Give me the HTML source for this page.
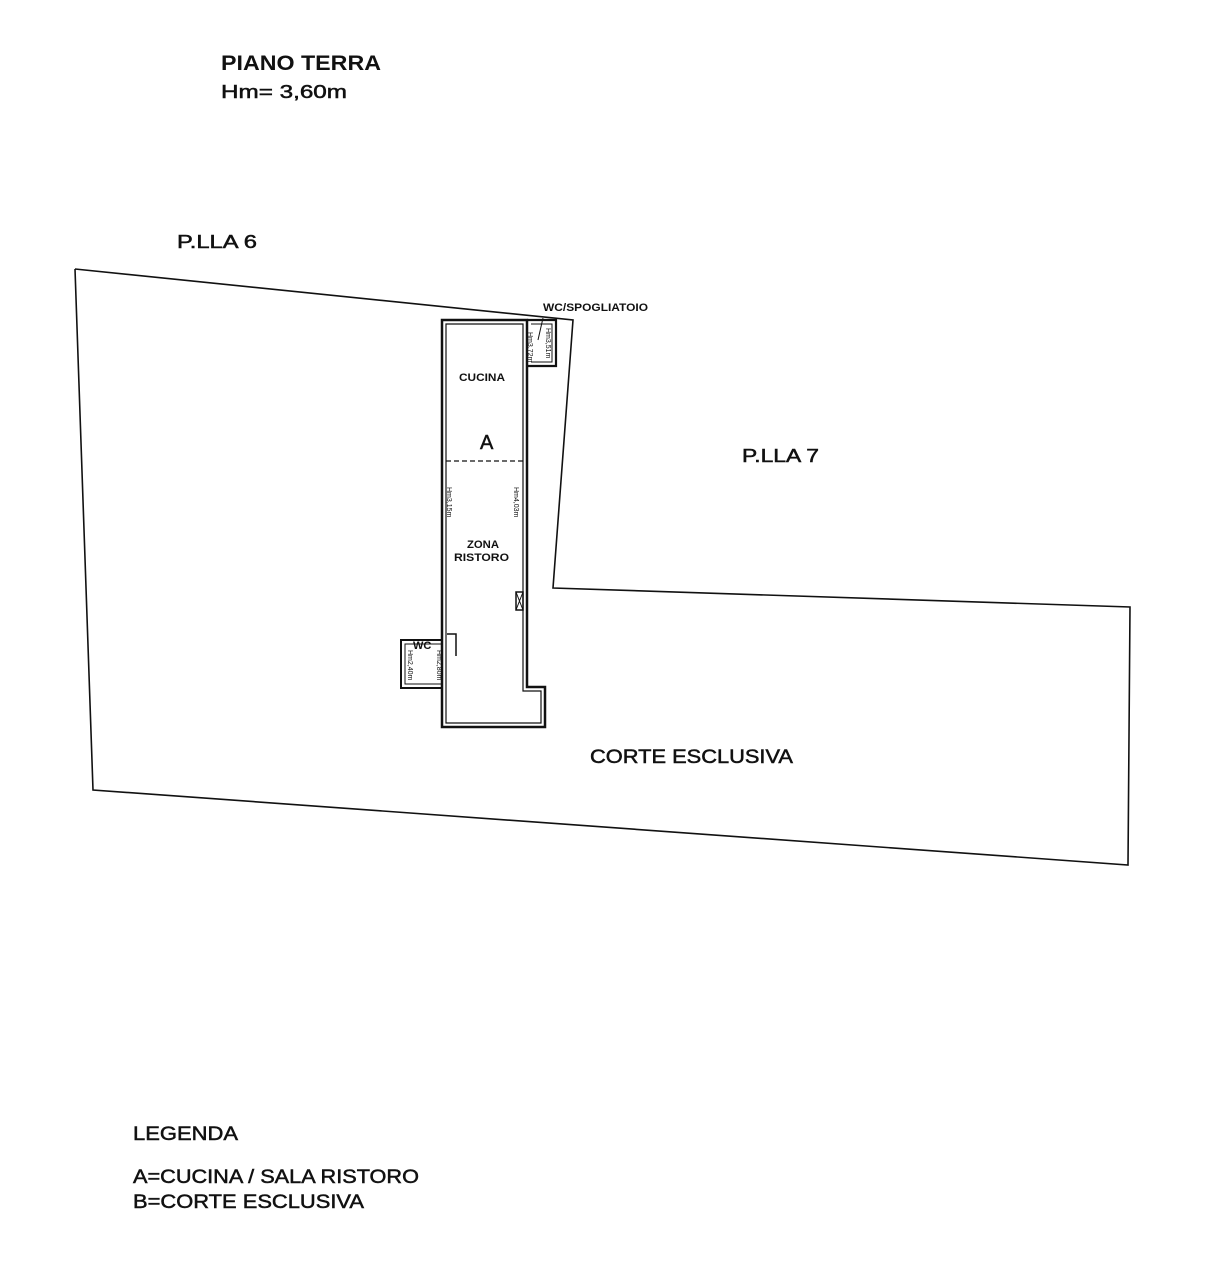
<!DOCTYPE html>
<html><head><style>
html,body{margin:0;padding:0;background:#fff;}
svg{display:block}
text{font-family:"Liberation Sans",Arial,sans-serif;fill:#111}
.m{stroke:#111;stroke-width:0.5}
</style></head><body>
<svg width="1215" height="1280" viewBox="0 0 1215 1280" xmlns="http://www.w3.org/2000/svg">
<rect width="1215" height="1280" fill="#fff"/>
<text x="221" y="70" font-size="21" font-weight="bold" textLength="160" lengthAdjust="spacingAndGlyphs">PIANO TERRA</text>
<text x="221" y="98" font-size="18" class="m" textLength="126" lengthAdjust="spacingAndGlyphs">Hm= 3,60m</text>
<text x="177" y="248" font-size="18" class="m" textLength="80" lengthAdjust="spacingAndGlyphs">P.LLA 6</text>
<text x="742" y="462" font-size="18" class="m" textLength="77" lengthAdjust="spacingAndGlyphs">P.LLA 7</text>
<text x="590" y="763" font-size="19" class="m" textLength="203" lengthAdjust="spacingAndGlyphs">CORTE ESCLUSIVA</text>
<text x="133" y="1140" font-size="19" class="m" textLength="105" lengthAdjust="spacingAndGlyphs">LEGENDA</text>
<text x="133" y="1183" font-size="19" class="m" textLength="286" lengthAdjust="spacingAndGlyphs">A=CUCINA / SALA RISTORO</text>
<text x="133" y="1208" font-size="19" class="m" textLength="231" lengthAdjust="spacingAndGlyphs">B=CORTE ESCLUSIVA</text>
<g fill="none" stroke="#111" stroke-width="1.6">
<polyline points="75,269 573,320 553,588 1130,607 1128,865 93,790 75,269"/>
</g>
<g fill="none" stroke="#111">
<path d="M442,320 H527 V687 H545 V727 H442 Z" stroke-width="2.5"/>
<path d="M446,324 H523 V691 H541 V723 H446 Z" stroke-width="1.2"/>
<path d="M527,320 H556 V366 H527" stroke-width="2.2"/>
<path d="M531,324 H552 V362 H531" stroke-width="1"/>
<path d="M442,640 H401 V688 H442" stroke-width="2"/>
<path d="M442,644 H405 V684 H442" stroke-width="1"/>
<path d="M447,634 H456 V656" stroke-width="1.5"/>
<line x1="446" y1="461" x2="524" y2="461" stroke-width="1.2" stroke-dasharray="5,3"/>
<rect x="516" y="592" width="7" height="18" stroke-width="1.5"/>
<path d="M516,592 L523,610 M523,592 L516,610" stroke-width="1"/>
<line x1="543" y1="318" x2="538" y2="340" stroke-width="1"/>
</g>
<text x="543" y="311" font-size="11" font-weight="bold" textLength="105" lengthAdjust="spacingAndGlyphs">WC/SPOGLIATOIO</text>
<text x="459" y="381" font-size="11" font-weight="bold" textLength="46" lengthAdjust="spacingAndGlyphs">CUCINA</text>
<text x="480" y="449" font-size="20" class="m">A</text>
<text x="467" y="548" font-size="11" font-weight="bold" textLength="32" lengthAdjust="spacingAndGlyphs">ZONA</text>
<text x="454" y="561" font-size="11" font-weight="bold" textLength="55" lengthAdjust="spacingAndGlyphs">RISTORO</text>
<text x="413" y="649" font-size="11" font-weight="bold">WC</text>
<g font-size="7">
<text transform="translate(447,487) rotate(90)">Hm3,15m</text>
<text transform="translate(514,487) rotate(90)">Hm4,03m</text>
<text transform="translate(528,332) rotate(90)">Hm3,72m</text>
<text transform="translate(546,328) rotate(90)">Hm3,51m</text>
<text transform="translate(408,650) rotate(90)">Hm2,40m</text>
<text transform="translate(437,650) rotate(90)">Hm2,80m</text>
</g>
</svg>
</body></html>
